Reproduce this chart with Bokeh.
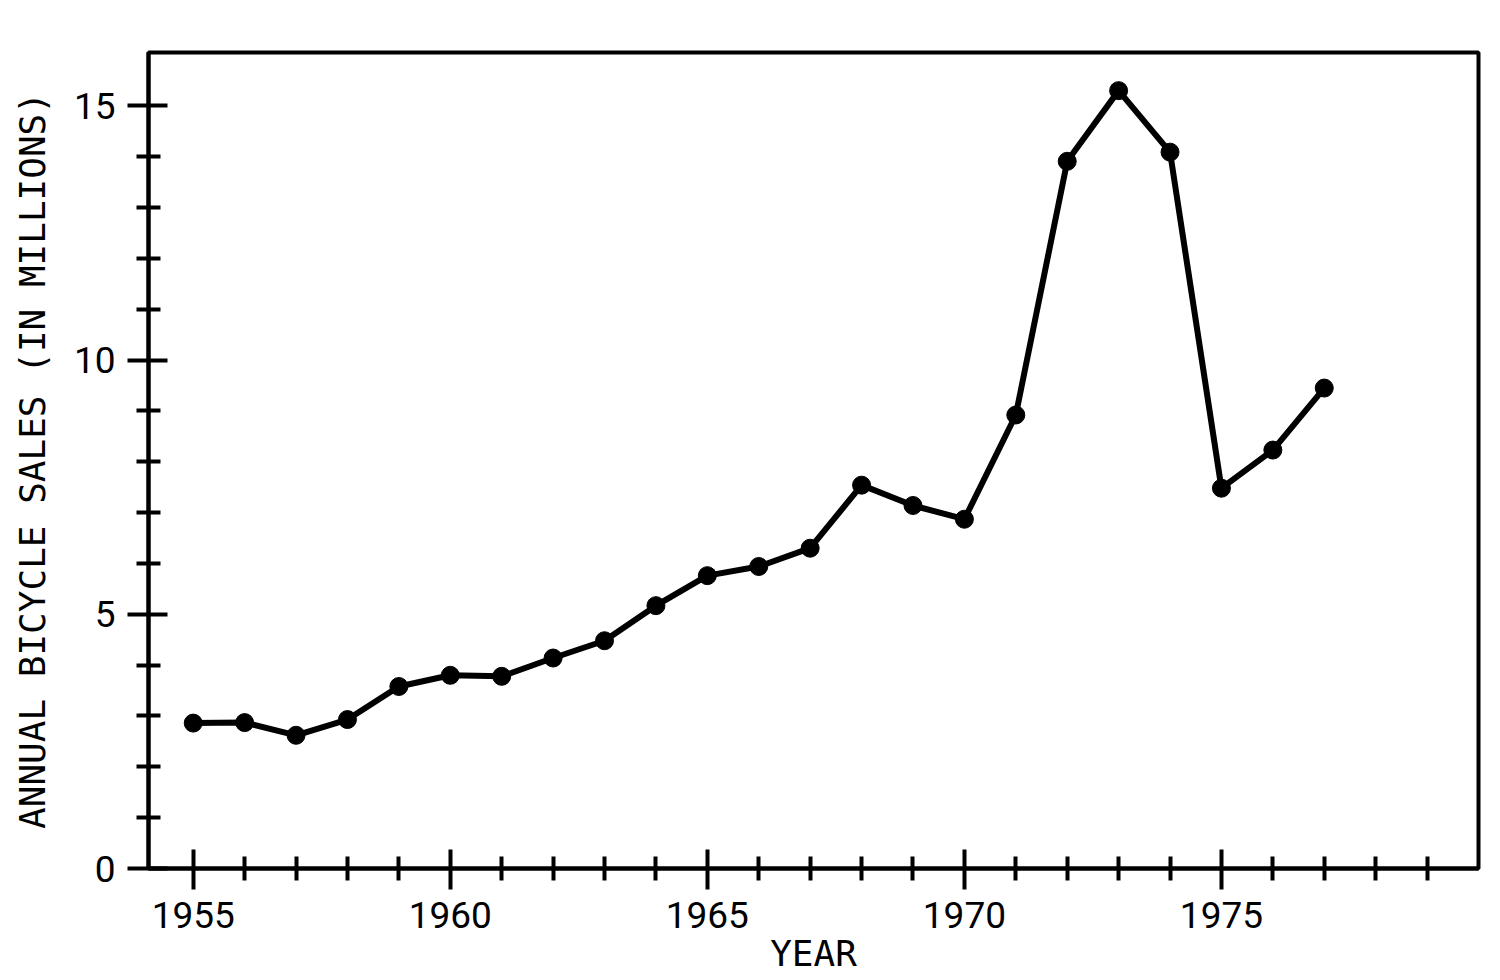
from bokeh.plotting import figure
from bokeh.models import FixedTicker, Range1d
from bokeh.embed import file_html
from bokeh.resources import INLINE

# ---- data ----
years = list(range(1955, 1978))
sales = [2.86, 2.87, 2.62, 2.93, 3.58, 3.80, 3.78, 4.14, 4.48, 5.17, 5.76,
         5.94, 6.30, 7.54, 7.14, 6.87, 8.92, 13.91, 15.30, 14.09, 7.48, 8.23, 9.45]

x_major = [1955, 1960, 1965, 1970, 1975]
x_minor = [y for y in range(1956, 1980) if y % 5 != 0]
y_major = [0, 5, 10, 15]
y_minor = [v for v in range(1, 15) if v % 5 != 0]

x_title = "YEAR"
y_title = "ANNUAL BICYCLE SALES (IN MILLIONS)"

p = figure(frame_width=1330, frame_height=816,
           x_range=Range1d(1954.13, 1980.0), y_range=Range1d(0, 16.05),
           output_backend="svg", toolbar_location=None,
           min_border_left=148, min_border_top=52, min_border_right=8,
           min_border_bottom=60)

p.background_fill_color = "white"
p.border_fill_color = "white"
p.outline_line_color = "black"
p.outline_line_width = 4
p.xgrid.visible = False
p.ygrid.visible = False

p.xaxis.ticker = FixedTicker(ticks=x_major, minor_ticks=x_minor)
p.yaxis.ticker = FixedTicker(ticks=y_major, minor_ticks=y_minor)

for ax in (p.xaxis[0], p.yaxis[0]):
    ax.axis_line_width = 4
    ax.axis_line_color = "black"
    ax.major_tick_line_width = 4
    ax.major_tick_line_color = "black"
    ax.minor_tick_line_width = 4
    ax.minor_tick_line_color = "black"
    ax.major_tick_in = 19
    ax.major_tick_out = 21
    ax.minor_tick_in = 12
    ax.minor_tick_out = 12
    ax.major_label_text_font = "Roboto"
    ax.major_label_text_font_size = "37px"
    ax.major_label_text_line_height = 1.0
    ax.major_label_text_color = "black"
    ax.axis_label_text_font = "DejaVu Sans Mono"
    ax.axis_label_text_font_size = "36px"
    ax.axis_label_text_line_height = 1.0
    ax.axis_label_text_font_style = "normal"
    ax.axis_label_text_color = "black"

p.xaxis.axis_label = x_title
p.yaxis.axis_label = y_title
p.xaxis.major_label_standoff = 12
p.yaxis.major_label_standoff = 12
p.xaxis.axis_label_standoff = 2
p.yaxis.axis_label_standoff = 18

p.line(years, sales, line_width=6, line_color="black")
p.scatter(years, sales, size=18, fill_color="black", line_color="black")

open("out.html", "w").write(file_html(p, INLINE))
